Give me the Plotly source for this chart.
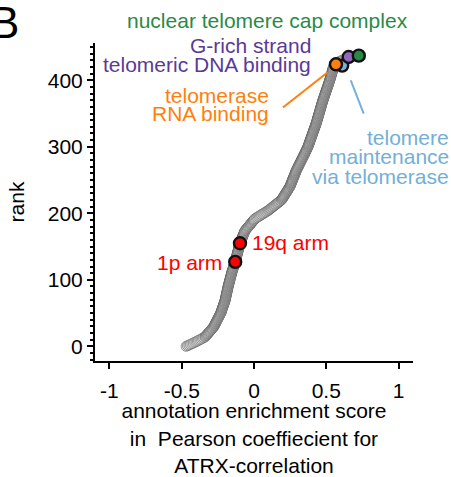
import plotly.graph_objects as go

# ---------------- data ----------------
# annotation enrichment scores, sorted; index = rank
scores = [
    -0.470, -0.460, -0.450, -0.440, -0.430, -0.420, -0.410, -0.401, -0.392, -0.384,
    -0.375, -0.366, -0.357, -0.349, -0.340, -0.336, -0.332, -0.328, -0.324, -0.320,
    -0.316, -0.312, -0.308, -0.304, -0.300, -0.296, -0.292, -0.288, -0.284, -0.280,
    -0.278, -0.275, -0.273, -0.270, -0.268, -0.266, -0.263, -0.261, -0.259, -0.256,
    -0.254, -0.252, -0.249, -0.247, -0.244, -0.242, -0.240, -0.237, -0.235, -0.233,
    -0.230, -0.228, -0.227, -0.225, -0.224, -0.222, -0.221, -0.219, -0.217, -0.216,
    -0.214, -0.213, -0.211, -0.210, -0.208, -0.206, -0.205, -0.203, -0.202, -0.200,
    -0.199, -0.198, -0.197, -0.196, -0.195, -0.194, -0.193, -0.192, -0.191, -0.190,
    -0.189, -0.188, -0.187, -0.186, -0.185, -0.184, -0.183, -0.182, -0.181, -0.180,
    -0.179, -0.178, -0.176, -0.175, -0.174, -0.173, -0.172, -0.170, -0.169, -0.168,
    -0.167, -0.166, -0.164, -0.163, -0.162, -0.161, -0.160, -0.158, -0.157, -0.156,
    -0.155, -0.154, -0.152, -0.151, -0.149, -0.148, -0.146, -0.145, -0.143, -0.142,
    -0.140, -0.139, -0.137, -0.136, -0.134, -0.133, -0.131, -0.130, -0.129, -0.128,
    -0.126, -0.125, -0.124, -0.123, -0.122, -0.121, -0.119, -0.118, -0.117, -0.116,
    -0.115, -0.114, -0.112, -0.111, -0.110, -0.109, -0.108, -0.106, -0.105, -0.104,
    -0.103, -0.102, -0.101, -0.099, -0.098, -0.097, -0.095, -0.093, -0.091, -0.090,
    -0.088, -0.086, -0.084, -0.082, -0.080, -0.079, -0.077, -0.075, -0.073, -0.071,
    -0.069, -0.068, -0.066, -0.064, -0.062, -0.058, -0.054, -0.051, -0.047, -0.043,
    -0.039, -0.035, -0.031, -0.027, -0.024, -0.020, -0.016, -0.012, -0.008, -0.004,
    -0.001, 0.003, 0.007, 0.015, 0.022, 0.030, 0.037, 0.045, 0.052, 0.060,
    0.067, 0.075, 0.082, 0.090, 0.097, 0.103, 0.109, 0.114, 0.120, 0.126,
    0.132, 0.138, 0.143, 0.149, 0.155, 0.161, 0.167, 0.172, 0.178, 0.184,
    0.190, 0.193, 0.196, 0.199, 0.202, 0.205, 0.207, 0.210, 0.213, 0.216,
    0.219, 0.222, 0.225, 0.228, 0.231, 0.234, 0.236, 0.239, 0.242, 0.245,
    0.248, 0.250, 0.252, 0.254, 0.255, 0.257, 0.259, 0.261, 0.263, 0.265,
    0.266, 0.268, 0.270, 0.272, 0.274, 0.276, 0.277, 0.279, 0.281, 0.283,
    0.285, 0.287, 0.288, 0.290, 0.292, 0.294, 0.296, 0.299, 0.301, 0.303,
    0.306, 0.308, 0.310, 0.312, 0.315, 0.317, 0.319, 0.322, 0.324, 0.326,
    0.328, 0.331, 0.333, 0.335, 0.338, 0.340, 0.342, 0.344, 0.347, 0.349,
    0.351, 0.353, 0.355, 0.358, 0.360, 0.362, 0.364, 0.366, 0.369, 0.371,
    0.373, 0.375, 0.376, 0.378, 0.380, 0.381, 0.383, 0.384, 0.386, 0.388,
    0.389, 0.391, 0.393, 0.394, 0.396, 0.397, 0.399, 0.401, 0.402, 0.404,
    0.406, 0.407, 0.409, 0.410, 0.412, 0.414, 0.415, 0.417, 0.419, 0.420,
    0.422, 0.423, 0.425, 0.427, 0.428, 0.430, 0.431, 0.433, 0.434, 0.435,
    0.437, 0.438, 0.439, 0.441, 0.442, 0.443, 0.445, 0.446, 0.447, 0.449,
    0.450, 0.451, 0.453, 0.454, 0.455, 0.457, 0.458, 0.459, 0.461, 0.462,
    0.463, 0.465, 0.466, 0.467, 0.469, 0.470, 0.471, 0.473, 0.474, 0.475,
    0.477, 0.479, 0.480, 0.482, 0.483, 0.485, 0.486, 0.488, 0.490, 0.491,
    0.493, 0.494, 0.496, 0.497, 0.499, 0.501, 0.502, 0.504, 0.505, 0.507,
    0.508, 0.510, 0.512, 0.513, 0.515, 0.516, 0.518, 0.519, 0.521, 0.522,
    0.524, 0.525, 0.527, 0.528, 0.529, 0.531, 0.532, 0.533, 0.535, 0.536,
    0.537, 0.539, 0.540, 0.541, 0.543, 0.544, 0.545, 0.546, 0.547, 0.549,
    0.550, 0.553, 0.556, 0.559, 0.562, 0.566, 0.570, 0.580, 0.590, 0.600,
    0.610, 0.620, 0.630, 0.640, 0.650, 0.660, 0.690, 0.730,
]
ranks = list(range(len(scores)))

# highlighted annotation terms
hl_names = ["1p arm", "19q arm", "telomere maintenance via telomerase",
            "telomerase RNA binding", "G-rich strand telomeric DNA binding",
            "nuclear telomere cap complex"]
hl_scores = [-0.130, -0.097, 0.610, 0.567, 0.655, 0.725]
hl_ranks = [127, 155, 422, 424, 435, 437]

# ---------------- styles ----------------
hl_colors = ["#ff0000", "#ff0000", "#78b1da", "#ff7f0e", "#9467bd", "#238b45"]
FONT = "Liberation Sans, Arial, sans-serif"
FS = 21
C_RED = "#ff0000"
C_BLUE = "#73afd6"
C_ORANGE = "#ff7f0e"
C_PURPLE = "#5b3a96"
C_GREEN = "#2a8a45"

fig = go.Figure()
fig.add_trace(go.Scatter(
    x=scores, y=ranks, mode="markers",
    marker=dict(size=10, color="#e0e0e0", line=dict(color="#474747", width=0.5)),
    showlegend=False, hoverinfo="skip"))
fig.add_trace(go.Scatter(
    x=hl_scores, y=hl_ranks, mode="markers", text=hl_names,
    marker=dict(size=12, color=hl_colors, line=dict(color="#111111", width=2.4)),
    showlegend=False, hoverinfo="text"))

ann = []
def lab(text, x, y, color, xanchor, ref="data"):
    d = dict(text=text, x=x, y=y, showarrow=False,
             xanchor=xanchor, yanchor="middle",
             font=dict(family=FONT, size=FS, color=color))
    if ref == "paper":
        d.update(xref="paper", yref="paper")
    else:
        d.update(xref="x", yref="y")
    ann.append(d)

lab("nuclear telomere cap complex", 0.541, 1.072, C_GREEN, "center", "paper")
lab("G-rich strand", 0.41, 452, C_PURPLE, "right")
lab("telomeric DNA binding", 0.41, 424, C_PURPLE, "right")
lab("telomerase", 0.115, 377, C_ORANGE, "right")
lab("RNA binding", 0.115, 350, C_ORANGE, "right")
lab("telomere", 1.118, 0.704, C_BLUE, "right", "paper")
lab("maintenance", 1.118, 0.642, C_BLUE, "right", "paper")
lab("via telomerase", 1.118, 0.579, C_BLUE, "right", "paper")
lab("19q arm", -0.025, 156, C_RED, "left")
lab("1p arm", -0.21, 126, C_RED, "right")

ann.append(dict(text="B", x=-0.335, y=1.065, xref="paper", yref="paper",
                showarrow=False, xanchor="left", yanchor="middle",
                font=dict(family=FONT, size=44, color="black")))

shapes = [
    dict(type="line", xref="x", yref="y", x0=0.20, y0=359, x1=0.51, y1=412,
         line=dict(color=C_ORANGE, width=2)),
    dict(type="line", xref="x", yref="y", x0=0.669, y0=400, x1=0.759, y1=350,
         line=dict(color=C_BLUE, width=2)),
]

fig.update_layout(
    width=451, height=477,
    margin=dict(l=95, r=38, t=43, b=116),
    plot_bgcolor="white", paper_bgcolor="white",
    font=dict(family=FONT, size=FS, color="black"),
    annotations=ann, shapes=shapes,
    xaxis=dict(range=[-1.1, 1.1], tickvals=[-1, -0.5, 0, 0.5, 1],
               ticktext=["-1", "-0.5", "0", "0.5", "1"], automargin=False,
               showgrid=False, zeroline=False, showline=True,
               linecolor="black", linewidth=2, ticks="outside", ticklen=6,
               tickwidth=2, tickcolor="black", ticklabelstandoff=4,
               tickfont=dict(family=FONT, size=FS),
               title=dict(text="annotation enrichment score<br>in  Pearson coeffiecient for<br>ATRX-correlation",
                          font=dict(family=FONT, size=FS), standoff=9)),
    yaxis=dict(range=[-22, 456], tickvals=[0, 100, 200, 300, 400],
               automargin=False,
               showgrid=False, zeroline=False, showline=True,
               linecolor="black", linewidth=2, ticks="outside", ticklen=6,
               tickwidth=2, tickcolor="black",
               minor=dict(dtick=10, ticks="outside", ticklen=3, tickwidth=1.5,
                          tickcolor="black", showgrid=False),
               tickfont=dict(family=FONT, size=FS),
               title=dict(text="rank", font=dict(family=FONT, size=FS), standoff=17)),
)

fig.write_html("out.html")
